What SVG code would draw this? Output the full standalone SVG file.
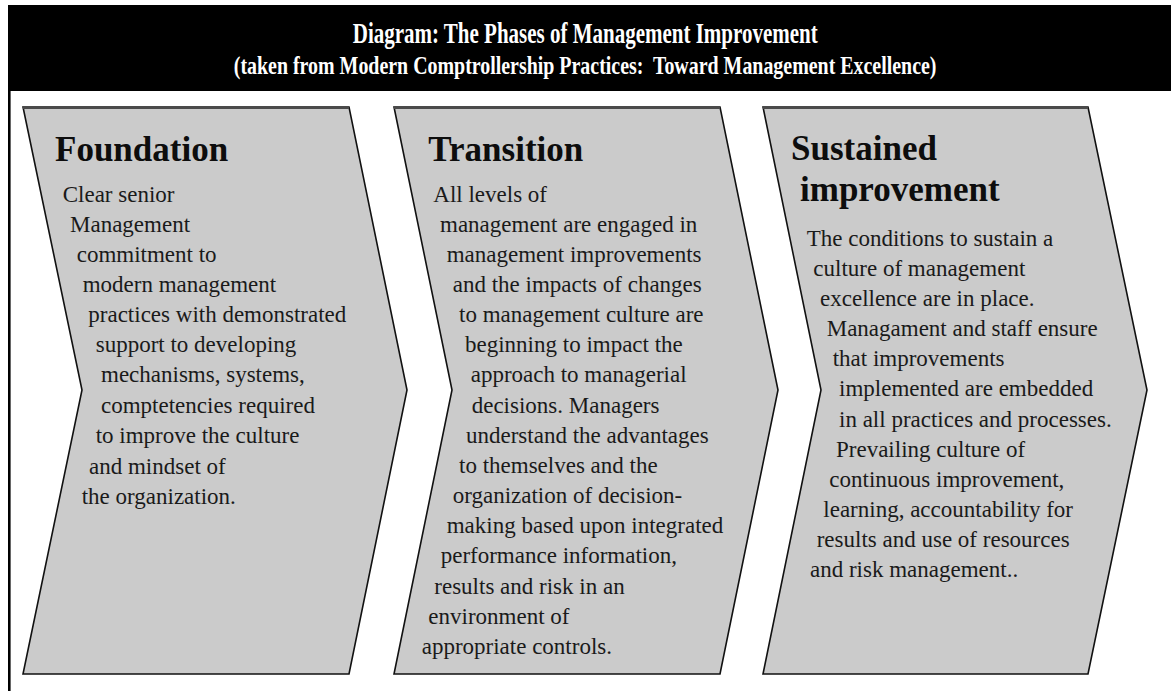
<svg xmlns="http://www.w3.org/2000/svg" width="1171" height="691" viewBox="0 0 1171 691">
  <style>
    .hdr { font-family: "Liberation Serif", "Times New Roman", serif; font-weight: bold; fill: #ffffff; text-anchor: middle; }
    .chev { fill: #cbcbcb; stroke: #111111; stroke-width: 1.6; stroke-linejoin: miter; }
    .topedge { stroke: #4a4a4a; stroke-width: 3; }
    .ttl { font-family: "Liberation Serif", "Times New Roman", serif; font-weight: bold; font-size: 35px; fill: #0d0d0d; }
    .body { font-family: "Liberation Serif", "Times New Roman", serif; font-size: 23px; fill: #1a1a1a; }
  </style>
  <rect x="0" y="0" width="1171" height="691" fill="#ffffff"/>
  <g id="header">
    <rect x="8" y="5" width="1163" height="86" fill="#000000"/>
    <g transform="scale(0.70,1)">
      <text class="hdr" x="836" y="43" font-size="30">Diagram: The Phases of Management Improvement</text>
    </g>
    <g transform="scale(0.775,1)">
      <text class="hdr" x="755" y="74" font-size="25.7" xml:space="preserve">(taken from Modern Comptrollership Practices:  Toward Management Excellence)</text>
    </g>
  </g>
  <line id="frame-left" x1="9.3" y1="90" x2="9.3" y2="691" stroke="#000000" stroke-width="2.6"/>

  <g id="foundation">
    <polygon class="chev" points="23,107 349,107 407,390 349,674 23,674 82,390"/>
    <line class="topedge" x1="23" y1="107.5" x2="349" y2="107.5"/>
    <text class="ttl" x="55" y="161">Foundation</text>
    <g class="body">
      <text x="62.7" y="202">Clear senior</text>
      <text x="70" y="232">Management</text>
      <text x="76.7" y="262">commitment to</text>
      <text x="82.7" y="292">modern management</text>
      <text x="88.3" y="322">practices with demonstrated</text>
      <text x="95.7" y="352">support to developing</text>
      <text x="101" y="382">mechanisms, systems,</text>
      <text x="101" y="413">comptetencies required</text>
      <text x="95.7" y="443">to improve the culture</text>
      <text x="89" y="474">and mindset of</text>
      <text x="81.7" y="504">the organization.</text>
    </g>
  </g>

  <g id="transition">
    <polygon class="chev" points="394,107 720,107 778,390 720,674 394,674 452,390"/>
    <line class="topedge" x1="394" y1="107.5" x2="720" y2="107.5"/>
    <text class="ttl" x="428.3" y="161">Transition</text>
    <g class="body">
      <text x="433.3" y="202">All levels of</text>
      <text x="440" y="232">management are engaged in</text>
      <text x="446.7" y="262">management improvements</text>
      <text x="452.7" y="292">and the impacts of changes</text>
      <text x="459" y="322">to management culture are</text>
      <text x="465" y="352">beginning to impact the</text>
      <text x="470.7" y="382">approach to managerial</text>
      <text x="471.7" y="413">decisions. Managers</text>
      <text x="466" y="443">understand the advantages</text>
      <text x="459" y="473">to themselves and the</text>
      <text x="452.7" y="503">organization of decision-</text>
      <text x="446.7" y="533">making based upon integrated</text>
      <text x="440.7" y="563">performance information,</text>
      <text x="434.3" y="594">results and risk in an</text>
      <text x="428.3" y="624">environment of</text>
      <text x="421.7" y="654">appropriate controls.</text>
    </g>
  </g>

  <g id="sustained-improvement">
    <polygon class="chev" points="763,107 1088,107 1147,390 1088,674 763,674 821,390"/>
    <line class="topedge" x1="763" y1="107.5" x2="1088" y2="107.5"/>
    <text class="ttl" x="791" y="160">Sustained</text>
    <text class="ttl" x="800" y="201">improvement</text>
    <g class="body">
      <text x="806.7" y="246">The conditions to sustain a</text>
      <text x="813.3" y="276">culture of management</text>
      <text x="820" y="306">excellence are in place.</text>
      <text x="826.7" y="336">Managament and staff ensure</text>
      <text x="832.7" y="366">that improvements</text>
      <text x="839" y="396">implemented are embedded</text>
      <text x="839" y="427">in all practices and processes.</text>
      <text x="836" y="457">Prevailing culture of</text>
      <text x="829.3" y="487">continuous improvement,</text>
      <text x="823.3" y="517">learning, accountability for</text>
      <text x="816.7" y="547">results and use of resources</text>
      <text x="810" y="577">and risk management..</text>
    </g>
  </g>
</svg>
